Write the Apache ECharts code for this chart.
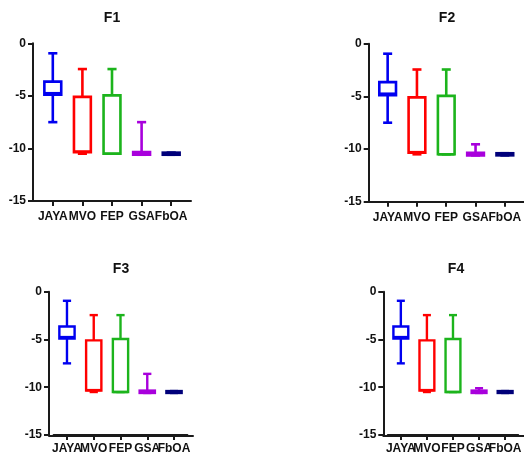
<!DOCTYPE html>
<html><head><meta charset="utf-8">
<script src="https://cdn.jsdelivr.net/npm/echarts@6/dist/echarts.min.js"></script>
<style>html,body{margin:0;padding:0;background:#fff}#c{width:524px;height:455px}</style>
</head><body><div id="c"></div>
<script>
// ---- data ----
const categories = ['JAYA', 'MVO', 'FEP', 'GSA', 'FbOA'];
const titles = ['F1', 'F2', 'F3', 'F4'];
const yTicks = [0, -5, -10, -15];
// each entry: [min, q1, median, q3, max]
const f1Data = [[-7.5, -4.9, -4.75, -3.65, -0.95], [-10.5, -10.35, -10.3, -5.1, -2.45], [-10.5, -10.5, -10.5, -4.95, -2.45], [-10.6, -10.6, -10.5, -10.35, -7.5], [-10.6, -10.6, -10.5, -10.4, -10.4]];
const f2Data = [[-7.5, -4.9, -4.75, -3.65, -0.95], [-10.5, -10.35, -10.3, -5.1, -2.45], [-10.5, -10.5, -10.5, -4.95, -2.45], [-10.6, -10.6, -10.5, -10.35, -9.55], [-10.6, -10.6, -10.5, -10.4, -10.4]];
const f3Data = [[-7.5, -4.9, -4.75, -3.65, -0.95], [-10.5, -10.35, -10.3, -5.1, -2.45], [-10.5, -10.5, -10.5, -4.95, -2.45], [-10.6, -10.6, -10.5, -10.35, -8.6], [-10.6, -10.6, -10.5, -10.4, -10.4]];
const f4Data = [[-7.5, -4.9, -4.75, -3.65, -0.95], [-10.5, -10.35, -10.3, -5.1, -2.45], [-10.5, -10.5, -10.5, -4.95, -2.45], [-10.6, -10.6, -10.5, -10.35, -10.1], [-10.6, -10.6, -10.5, -10.4, -10.4]];
const panelData = [f1Data, f2Data, f3Data, f4Data];

// ---- styles / layout ----
const colors = ['#0000f0', '#ff0000', '#1cb41c', '#a800dc', '#00007a'];
const FONT = "'Liberation Sans', Arial, sans-serif";
const layout = [
  {axisX0: 33, axisX1: 191, gridL: 38, gridW: 148, top: 43.3, bottom: 201, tx: 112, ty: 11.5, lw: 2.6, xm: 10, ym: 7},
  {axisX0: 368.7, axisX1: 524, gridL: 373, gridW: 148.3, top: 43.7, bottom: 201.7, tx: 447, ty: 11.5, lw: 2.6, xm: 10, ym: 7},
  {axisX0: 49, axisX1: 193, gridL: 53.6, gridW: 133.8, top: 291.7, bottom: 435.7, tx: 121, ty: 262, lw: 2.4, xm: 8, ym: 7},
  {axisX0: 383.3, axisX1: 524, gridL: 387.8, gridW: 135, top: 291.7, bottom: 436, tx: 456, ty: 262, lw: 2.4, xm: 8, ym: 7}
];

const option = {animation: false, backgroundColor: '#fff', title: [], grid: [], xAxis: [], yAxis: [], series: []};
const axisColor = '#1a1a1a';
const axisW = 2;

layout.forEach((L, p) => {
  const gMain = option.grid.length;
  option.grid.push({left: L.gridL, top: L.top, width: L.gridW, height: L.bottom - L.top});
  option.grid.push({left: L.axisX0, top: L.top, width: L.axisX1 - L.axisX0, height: L.bottom - L.top});
  const gFrame = gMain + 1;
  option.title.push({text: titles[p], left: L.tx, top: L.ty, textAlign: 'center', padding: 0,
    textStyle: {fontFamily: FONT, fontSize: 14, fontWeight: 'bold', color: '#111'}});
  const xMain = option.xAxis.length;
  option.xAxis.push({type: 'category', gridIndex: gMain, data: categories, boundaryGap: true, position: 'bottom',
    axisLine: {show: true, onZero: false, lineStyle: {color: axisColor, width: axisW}},
    axisTick: {show: true, alignWithLabel: true, length: 5, lineStyle: {color: axisColor, width: axisW}},
    axisLabel: {fontFamily: FONT, fontSize: 12, fontWeight: 'bold', color: '#111', margin: L.xm, interval: 0}});
  option.xAxis.push({type: 'value', gridIndex: gFrame, min: 0, max: 1, position: 'bottom',
    axisLine: {show: true, onZero: false, lineStyle: {color: axisColor, width: axisW}}, axisTick: {show: false}, axisLabel: {show: false}, splitLine: {show: false}});
  const yMain = option.yAxis.length;
  option.yAxis.push({type: 'value', gridIndex: gMain, min: yTicks[3], max: yTicks[0], interval: 5, offset: L.gridL - L.axisX0, position: 'left',
    axisLine: {show: true, onZero: false, lineStyle: {color: axisColor, width: axisW}}, axisTick: {show: true, length: 5, lineStyle: {color: axisColor, width: axisW}},
    axisLabel: {fontFamily: FONT, fontSize: 12, fontWeight: 'bold', color: '#111', margin: L.ym}, splitLine: {show: false}});
  option.yAxis.push({type: 'value', gridIndex: gFrame, min: 0, max: 1, show: false});
  const lw = L.lw;
  option.series.push({
    type: 'custom', xAxisIndex: xMain, yAxisIndex: yMain,
    data: panelData[p].map((d, i) => [i].concat(d)),
    encode: {x: 0, y: [1, 2, 3, 4, 5]},
    renderItem: function (params, api) {
      const i = api.value(0);
      const band = api.size([1, 0])[0];
      const bw = band * 0.57;
      const cap = bw * 0.27;
      const cx = api.coord([i, 0])[0];
      const y = k => api.coord([i, api.value(k)])[1];
      const yMin = y(1), yQ1 = y(2), yMed = y(3), yQ3 = y(4), yMax = y(5);
      const st = {stroke: colors[i], lineWidth: lw, fill: null};
      const line = (x1, y1, x2, y2) => ({type: 'line', shape: {x1, y1, x2, y2}, style: st});
      return {type: 'group', children: [
        line(cx, yMax, cx, yQ3),
        line(cx, yQ1, cx, yMin),
        line(cx - cap, yMax, cx + cap, yMax),
        line(cx - cap, yMin, cx + cap, yMin),
        {type: 'rect', shape: {x: cx - bw / 2, y: yQ3, width: bw, height: yQ1 - yQ3}, style: {stroke: colors[i], lineWidth: lw, fill: '#fff'}},
        line(cx - bw / 2, yMed, cx + bw / 2, yMed)
      ]};
    }
  });
});

const chart = echarts.init(document.getElementById('c'), null, {renderer: 'canvas'});
chart.setOption(option);
</script></body></html>
